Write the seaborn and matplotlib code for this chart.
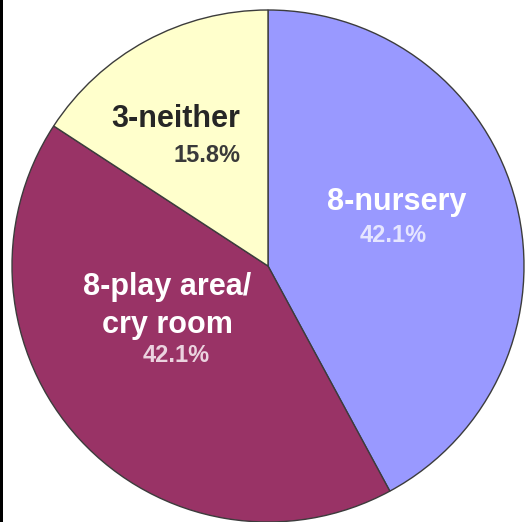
import matplotlib
matplotlib.use("Agg")
import matplotlib.pyplot as plt
from matplotlib.patches import Rectangle
import seaborn as sns

sns.set_theme(style="white")
plt.rcParams['font.family'] = ['Liberation Sans', 'DejaVu Sans']

# Data
categories = ["8-nursery", "8-play area/\ncry room", "3-neither"]
counts = [8, 8, 3]
colors = ["#9999FF", "#993366", "#FFFFCC"]
label_colors = ["white", "white", "#262626"]
pct_colors = ["#E6E6FF", "#EBD3DF", "#3A3A3A"]

# Layout (label anchor positions in pie-radius units, baseline of first line)
label_pos = [(0.504, 0.219), (-0.393, -0.113), (-0.359, 0.543)]
pct_pos = [(0.488, 0.094), (-0.359, -0.375), (-0.238, 0.406)]
line_step = 0.148

W, H = 527, 522
fig = plt.figure(figsize=(W / 100, H / 100), dpi=100)
cx, cy, r = 268, 266, 256
ax = fig.add_axes([(cx - r) / W, (H - cy - r) / H, 2 * r / W, 2 * r / H])

total = sum(counts)
ax.pie(counts, colors=colors, startangle=90, counterclock=False,
       radius=1, wedgeprops=dict(edgecolor="#3c3c3c", linewidth=1.0))
ax.set_xlim(-1, 1)
ax.set_ylim(-1, 1)
ax.set_aspect("auto")
ax.axis("off")

for cat, c, lc, pc, (lx, ly), (px, py) in zip(categories, counts, label_colors,
                                                pct_colors, label_pos, pct_pos):
    for i, line in enumerate(cat.split("\n")):
        ax.text(lx, ly - i * line_step, line, ha="center", va="baseline",
                fontsize=22, fontweight="bold", color=lc)
    ax.text(px, py, f"{100 * c / total:.1f}%", ha="center", va="baseline",
            fontsize=17, fontweight="bold", color=pc)

fig.add_artist(Rectangle((0, 0), 3 / W, 1, transform=fig.transFigure,
                         facecolor="black", edgecolor="none"))

fig.savefig("out.png", dpi=100)
